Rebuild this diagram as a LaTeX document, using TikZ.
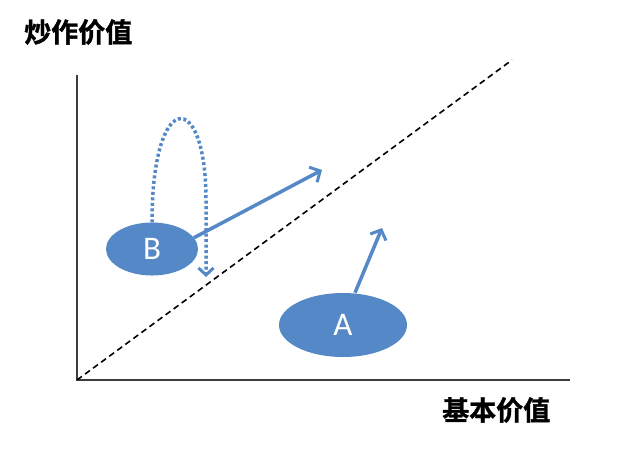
\documentclass[tikz,border=0pt]{standalone}
\usepackage{fontspec}
\newfontfamily\cjk{Noto Sans CJK SC}[BoldFont=Noto Sans CJK SC Bold,BoldFeatures={FakeBold=1.2}]
\newfontfamily\lbl{Carlito}
\usetikzlibrary{arrows.meta,shapes.geometric}
\definecolor{myblue}{RGB}{84,136,198}
\definecolor{axisgray}{RGB}{60,60,60}
\tikzset{
  blob/.style={ellipse,fill=myblue,draw=none,text=white,font=\lbl\fontsize{33}{34}\selectfont,inner sep=0pt},
  varrow/.style={myblue,line width=3.5pt,-{Straight Barb[length=8pt,width=17pt,line width=3pt]}},
  loop/.style={myblue,line width=3.5pt,dash pattern=on 3pt off 2.5pt,-{Straight Barb[length=7pt,width=15pt,line width=3pt]}},
  axis/.style={axisgray,line width=2.2pt},
  title/.style={font=\cjk\bfseries\fontsize{27}{30}\selectfont,inner sep=0pt}
}
\begin{document}
\begin{tikzpicture}[x=1pt,y=-1pt]
\useasboundingbox (0,0) rectangle (640,467);
\fill[white] (0,0) rectangle (640,467);
\coordinate (O) at (77,380);
\coordinate (Ytop) at (77,75);
\coordinate (Xend) at (570,380);
\coordinate (Dend) at (512,60);
\draw[axis] (Ytop) -- (O) -- (Xend);
\draw[black,line width=1.6pt,dash pattern=on 6pt off 4pt] (O) -- (Dend);
\node[title,anchor=west] (ty) at (24,32) {炒作价值};
\node[title,anchor=west] (tx) at (442,410) {基本价值};
\node[blob,minimum width=92pt,minimum height=53pt] (B) at (152,249) {B};
\node[blob,minimum width=128pt,minimum height=64pt] (A) at (343,325) {A};
\coordinate (Bt) at (322,170);
\coordinate (At) at (382,228);
\coordinate (Ld) at (206,277);
\draw[varrow] (B.15) -- (Bt);
\draw[varrow] (A.north) ++(12,0) coordinate (As) (As) -- (At);
\draw[loop] (B.north) .. controls (152,88) and (206,88) .. (206,200) -- (Ld);
\end{tikzpicture}
\end{document}
